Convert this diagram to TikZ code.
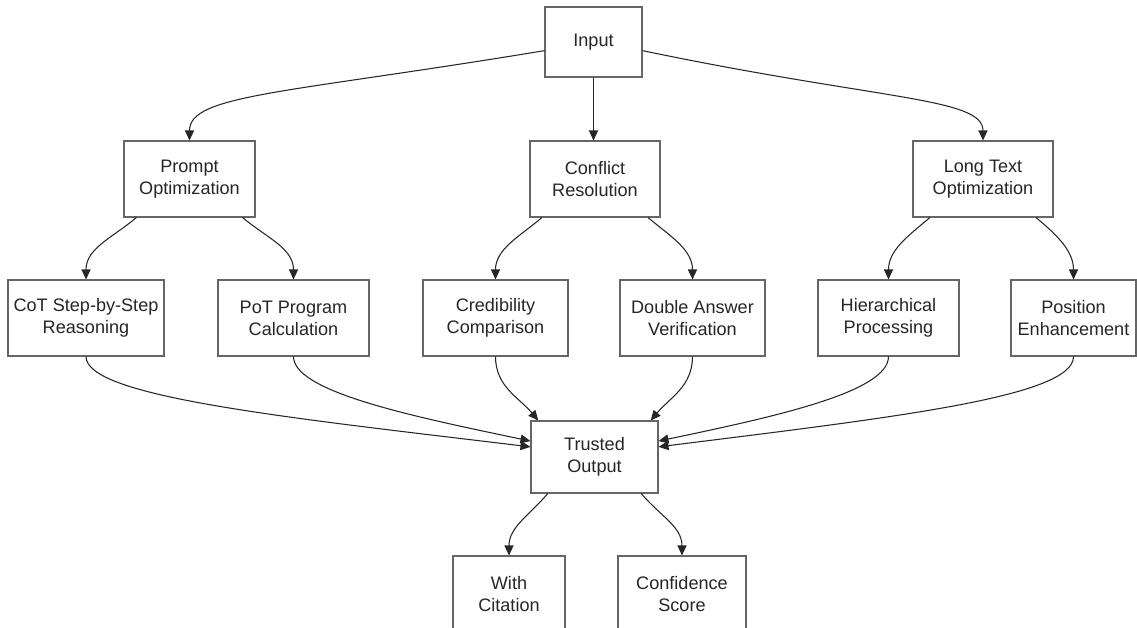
\documentclass[tikz,border=0pt]{standalone}
\usepackage{fontspec}
\setmainfont{Liberation Sans}
\usetikzlibrary{arrows.meta}

\begin{document}
\begin{tikzpicture}[x=0.02cm, y=-0.02cm,
        box/.style={draw=black!60, line width=0.6pt, align=center, inner sep=0pt,
            minimum height=1.52cm, text=black!85, font=\fontsize{10.3}{12.5}\selectfont},
        link/.style={draw=black!85, line width=0.6pt, -{Triangle[length=2mm,width=1.8mm]}}]
            \useasboundingbox (0,0) rectangle (1137,628);
            \clip (0,0) rectangle (1137,628);
            \fill[white] (0,0) rectangle (1137,628);
            \node[box, minimum width=1.94cm, minimum height=1.4cm] (input) at (593.5, 42) {Input};
            \node[box, minimum width=2.62cm] (prompt) at (189.5, 179) {Prompt\\Optimization};
            \node[box, minimum width=2.60cm] (conflict) at (595, 179) {Conflict\\Resolution};
            \node[box, minimum width=2.80cm] (longtext) at (983, 179) {Long Text\\Optimization};
            \node[box, minimum width=3.12cm] (cot) at (86, 318) {CoT Step-by-Step\\Reasoning};
            \node[box, minimum width=3.02cm] (pot) at (293.5, 318) {PoT Program\\Calculation};
            \node[box, minimum width=2.90cm] (cred) at (495.5, 318) {Credibility\\Comparison};
            \node[box, minimum width=2.90cm] (double) at (692.5, 318) {Double Answer\\Verification};
            \node[box, minimum width=2.82cm] (hier) at (888.5, 318) {Hierarchical\\Processing};
            \node[box, minimum width=2.50cm] (position) at (1073.5, 318) {Position\\Enhancement};
            \node[box, minimum width=2.54cm, minimum height=1.44cm] (trusted) at (594.5, 457) {Trusted\\Output};
            \node[box, minimum width=2.24cm] (citation) at (509, 594) {With\\Citation};
            \node[box, minimum width=2.56cm] (confidence) at (682, 594) {Confidence\\Score};

            \draw[link] (input.190) .. controls +(-260,43) and +(0,-46) .. (prompt.north);
            \draw[link] (input.south) -- (input.south |- conflict.north);
            \draw[link] (input.-10) .. controls +(240,50) and +(0,-43) .. (longtext.north);

            \draw[link] (prompt.216) to[out=-140, in=90] (cot.north);
            \draw[link] (prompt.324) to[out=-40, in=90] (pot.north);
            \draw[link] (conflict.216) to[out=-140, in=90] (cred.north);
            \draw[link] (conflict.324) to[out=-40, in=90] (double.north);
            \draw[link] (longtext.216) to[out=-140, in=90] (hier.north);
            \draw[link] (longtext.324) to[out=-40, in=90] (position.north);

            \draw[link] (cot.south) .. controls +(0,40) and +(-250,-30) .. (trusted.171);
            \draw[link] (pot.south) .. controls +(0,35) and +(-120,-25) .. (trusted.166);
            \draw[link] (cred.south) to[out=-90, in=130] (trusted.147);
            \draw[link] (double.south) to[out=-90, in=50] (trusted.33);
            \draw[link] (hier.south) .. controls +(0,35) and +(120,-25) .. (trusted.14);
            \draw[link] (position.south) .. controls +(0,40) and +(240,-30) .. (trusted.9);

            \draw[link] (trusted.218) to[out=-130, in=90] (citation.north);
            \draw[link] (trusted.-38) to[out=-50, in=90] (confidence.north);
        \end{tikzpicture}
\end{document}
